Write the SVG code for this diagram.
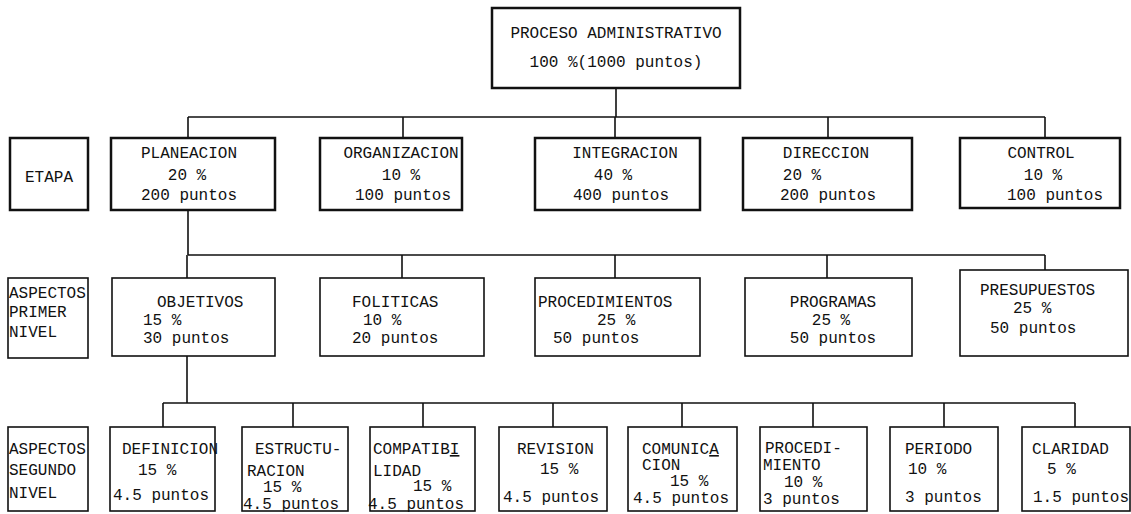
<svg xmlns="http://www.w3.org/2000/svg" width="1131" height="514" viewBox="0 0 1131 514">
<style>
text{font-family:"Liberation Mono","Courier New",monospace;font-size:16px;fill:#111}
.c{text-anchor:middle}
.b1{fill:#fff;stroke:#111;stroke-width:2.5}
.b2{fill:#fff;stroke:#111;stroke-width:1.6}
.ln{fill:none;stroke:#111;stroke-width:1.6}
.u{text-decoration:underline}
</style>
<rect width="1131" height="514" fill="#fff"/>
<g id="connectors">
<path class="ln" d="M616 88V117M188 117H1045M188 117V138M403 117V138M615 117V138M828 117V138M1045 117V138"/>
<path class="ln" d="M188 210V255M188 255H1045M187 255V278M402 255V278M615 255V278M827 255V278M1045 255V270"/>
<path class="ln" d="M187 356V403M163 403H1075M163 403V427M293 403V427M423 403V427M553 403V427M682 403V427M813 403V427M944 403V427M1075 403V427"/>
</g>
<g id="n-proceso">
<rect class="b1" x="492" y="8" width="248" height="80"/>
<text class="c" x="616" y="38">PROCESO ADMINISTRATIVO</text>
<text class="c" x="616" y="67">100 %(1000 puntos)</text>
</g>
<g id="l-etapa">
<rect class="b1" x="10" y="138" width="78" height="72"/>
<text class="c" x="49" y="182">ETAPA</text>
</g>
<g id="n-planeacion">
<rect class="b1" x="111" y="138" width="164" height="72"/>
<text class="c" x="189" y="158">PLANEACION</text>
<text class="c" x="187" y="180">20 %</text>
<text class="c" x="189" y="200">200 puntos</text>
</g>
<g id="n-organizacion">
<rect class="b1" x="320" y="138" width="142" height="72"/>
<text class="c" x="401" y="158">ORGANIZACION</text>
<text class="c" x="401" y="180">10 %</text>
<text class="c" x="403" y="200">100 puntos</text>
</g>
<g id="n-integracion">
<rect class="b1" x="535" y="138" width="165" height="72"/>
<text class="c" x="625" y="158">INTEGRACION</text>
<text class="c" x="613" y="180">40 %</text>
<text class="c" x="621" y="200">400 puntos</text>
</g>
<g id="n-direccion">
<rect class="b1" x="743" y="138" width="169" height="72"/>
<text class="c" x="826" y="158">DIRECCION</text>
<text class="c" x="802" y="180">20 %</text>
<text class="c" x="828" y="200">200 puntos</text>
</g>
<g id="n-control">
<rect class="b1" x="960" y="138" width="160" height="70"/>
<text class="c" x="1041" y="158">CONTROL</text>
<text class="c" x="1043" y="180">10 %</text>
<text class="c" x="1055" y="200">100 puntos</text>
</g>
<g id="l-primer">
<rect class="b2" x="8" y="278" width="80" height="80"/>
<text x="9" y="298">ASPECTOS</text>
<text x="9" y="317">PRIMER</text>
<text x="9" y="337">NIVEL</text>
</g>
<g id="n-objetivos">
<rect class="b2" x="112" y="278" width="163" height="78"/>
<text x="157" y="307">OBJETIVOS</text>
<text x="143" y="325">15 %</text>
<text x="143" y="343">30 puntos</text>
</g>
<g id="n-politicas">
<rect class="b2" x="320" y="278" width="164" height="78"/>
<text x="352" y="307">FOLITICAS</text>
<text x="363" y="325">10 %</text>
<text x="352" y="343">20 puntos</text>
</g>
<g id="n-procedimientos">
<rect class="b2" x="535" y="278" width="165" height="78"/>
<text x="538" y="307">PROCEDIMIENTOS</text>
<text x="597" y="325">25 %</text>
<text x="553" y="343">50 puntos</text>
</g>
<g id="n-programas">
<rect class="b2" x="745" y="278" width="167" height="78"/>
<text class="c" x="833" y="307">PROGRAMAS</text>
<text class="c" x="831" y="325">25 %</text>
<text class="c" x="833" y="343">50 puntos</text>
</g>
<g id="n-presupuestos">
<rect class="b2" x="960" y="270" width="168" height="86"/>
<text x="980" y="295">PRESUPUESTOS</text>
<text x="1013" y="313">25 %</text>
<text x="990" y="333">50 puntos</text>
</g>
<g id="l-segundo">
<rect class="b2" x="8" y="427" width="80" height="84"/>
<text x="9" y="454">ASPECTOS</text>
<text x="9" y="475">SEGUNDO</text>
<text x="9" y="498">NIVEL</text>
</g>
<g id="n-definicion">
<rect class="b2" x="110" y="427" width="105" height="84"/>
<text x="122" y="454">DEFINICION</text>
<text x="138" y="475">15 %</text>
<text x="113" y="500">4.5 puntos</text>
</g>
<g id="n-estructuracion">
<rect class="b2" x="242" y="427" width="106" height="84"/>
<text x="255" y="454">ESTRUCTU-</text>
<text x="247" y="476">RACION</text>
<text x="263" y="492">15 %</text>
<text x="243" y="509">4.5 puntos</text>
</g>
<g id="n-compatibilidad">
<rect class="b2" x="370" y="427" width="105" height="84"/>
<text x="373" y="454">COMPATIB<tspan class="u">I</tspan></text>
<text x="373" y="476">LIDAD</text>
<text x="413" y="491">15 %</text>
<text x="368" y="509">4.5 puntos</text>
</g>
<g id="n-revision">
<rect class="b2" x="499" y="427" width="108" height="84"/>
<text x="517" y="454">REVISION</text>
<text x="540" y="474">15 %</text>
<text x="503" y="502">4.5 puntos</text>
</g>
<g id="n-comunicacion">
<rect class="b2" x="628" y="427" width="109" height="84"/>
<text x="642" y="454">COMUNIC<tspan class="u">A</tspan></text>
<text x="642" y="470">CION</text>
<text x="670" y="486">15 %</text>
<text x="633" y="503">4.5 puntos</text>
</g>
<g id="n-procedimiento">
<rect class="b2" x="760" y="427" width="107" height="84"/>
<text x="765" y="453">PROCEDI-</text>
<text x="763" y="470">MIENTO</text>
<text x="784" y="487">10 %</text>
<text x="763" y="504">3 puntos</text>
</g>
<g id="n-periodo">
<rect class="b2" x="890" y="427" width="108" height="84"/>
<text x="905" y="454">PERIODO</text>
<text x="908" y="474">10 %</text>
<text x="905" y="502">3 puntos</text>
</g>
<g id="n-claridad">
<rect class="b2" x="1022" y="427" width="108" height="84"/>
<text x="1032" y="454">CLARIDAD</text>
<text x="1047" y="474">5 %</text>
<text x="1033" y="502">1.5 puntos</text>
</g>
</svg>
